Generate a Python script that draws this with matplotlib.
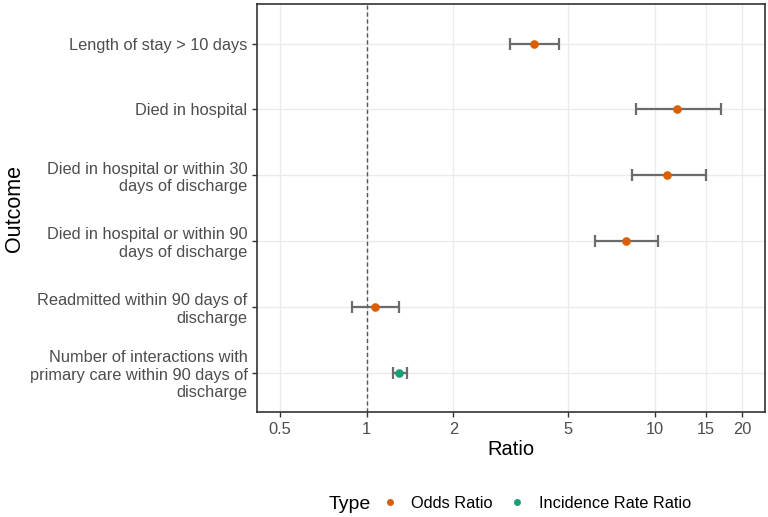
import numpy as np
import matplotlib
matplotlib.use('Agg')
import matplotlib.pyplot as plt
from matplotlib.lines import Line2D

plt.rcParams['font.family'] = ['Liberation Sans', 'DejaVu Sans']

outcomes = ['Length of stay > 10 days',
            'Died in hospital',
            'Died in hospital or within 30\ndays of discharge',
            'Died in hospital or within 90\ndays of discharge',
            'Readmitted within 90 days of\ndischarge',
            'Number of interactions with\nprimary care within 90 days of\ndischarge']
ratio = [3.81, 11.86, 11.0, 7.91, 1.07, 1.30]
lower = [3.14, 8.57, 8.28, 6.21, 0.887, 1.23]
upper = [4.66, 16.9, 14.99, 10.24, 1.294, 1.376]
types = ['Odds Ratio', 'Odds Ratio', 'Odds Ratio', 'Odds Ratio', 'Odds Ratio',
         'Incidence Rate Ratio']
type_order = ['Odds Ratio', 'Incidence Rate Ratio']
type_colors = {'Odds Ratio': '#D95F02', 'Incidence Rate Ratio': '#1B9E77'}
xticks = [0.5, 1, 2, 5, 10, 15, 20]

fig = plt.figure(figsize=(7.68, 5.17), dpi=100)
ax = fig.add_axes([0.335, 0.203, 0.661, 0.789])

n = len(outcomes)
ypos = np.arange(n)[::-1]  # first outcome at top

ax.grid(True, color='#EBEBEB', lw=1.0, zorder=0)
ax.set_axisbelow(True)
ax.axvline(1, color='#555555', ls=(0, (3, 2)), lw=1.0, zorder=1)

ratio = np.array(ratio); lower = np.array(lower); upper = np.array(upper)
ax.errorbar(ratio, ypos, xerr=[ratio - lower, upper - ratio], fmt='none',
            ecolor='#6b6b6b', elinewidth=1.6, capsize=4, capthick=1.6, zorder=2)
for i in range(n):
  ax.plot(ratio[i], ypos[i], 'o', color=type_colors[types[i]], ms=6.2,
          mec='none', zorder=3)

ax.set_xscale('log')
ax.set_xlim(0.418, 24.0)
ax.set_xticks(xticks)
ax.set_xticklabels([('%g' % t) for t in xticks])
ax.minorticks_off()
ax.set_ylim(-0.6, n - 1 + 0.6)
ax.set_yticks(ypos)
ax.set_yticklabels(outcomes, ha='right', linespacing=1.2)
ax.tick_params(axis='both', labelsize=11.8, labelcolor='#4D4D4D', color='#333333',
               length=3.5, width=1)
for s in ax.spines.values():
  s.set_color('#333333')
  s.set_linewidth(1.2)
ax.set_xlabel('Ratio', fontsize=14.5, labelpad=2)
ax.set_ylabel('Outcome', fontsize=15.5, labelpad=3)

# legend at the bottom, title on the left like ggplot
fig.text(0.428, 0.025, 'Type', fontsize=14, va='center', ha='left')
handles = [Line2D([], [], ls='none', marker='o', color=type_colors[t], ms=5, mec='none')
           for t in type_order]
fig.legend(handles, type_order, loc='center left', bbox_to_anchor=(0.497, 0.026),
           ncol=2, frameon=False, fontsize=11.8, handletextpad=0.8, columnspacing=1.0,
           handlelength=1.0, borderaxespad=0, borderpad=0)

fig.savefig('out.png', dpi=100)
